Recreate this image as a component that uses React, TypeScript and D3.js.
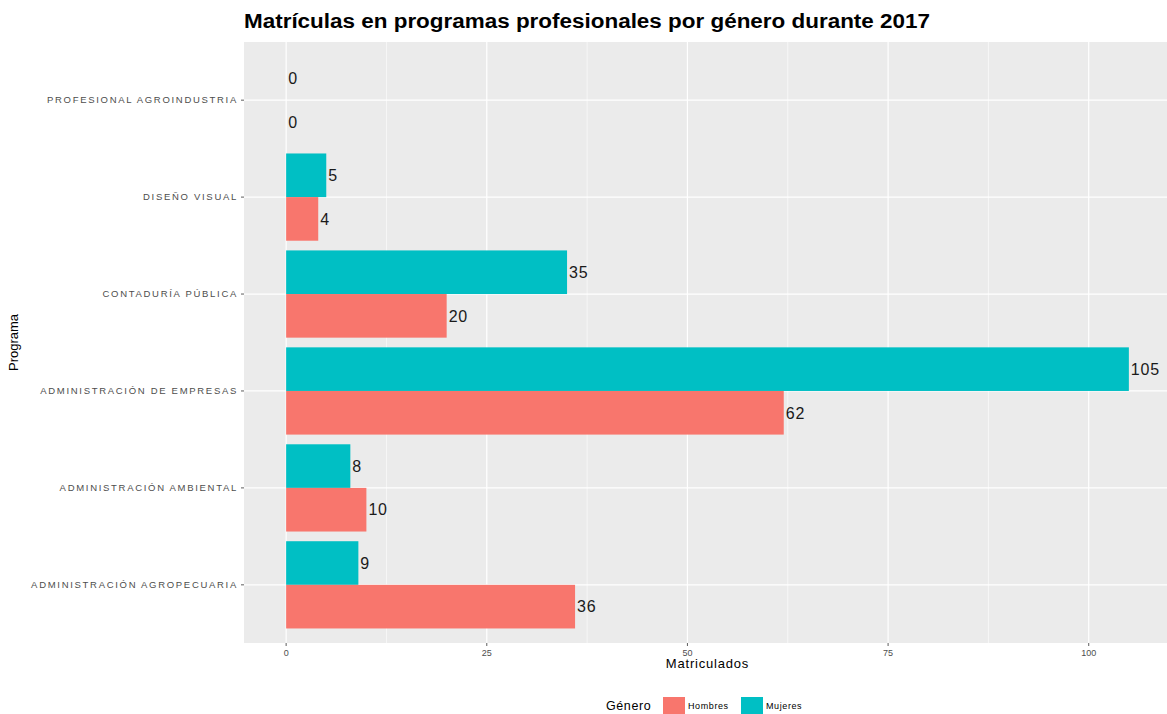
import React from "react";
import * as d3 from "d3";

const programs = [
  "PROFESIONAL AGROINDUSTRIA",
  "DISEÑO VISUAL",
  "CONTADURÍA PÚBLICA",
  "ADMINISTRACIÓN DE EMPRESAS",
  "ADMINISTRACIÓN AMBIENTAL",
  "ADMINISTRACIÓN AGROPECUARIA",
];
const hombres = [0, 4, 20, 62, 10, 36];
const mujeres = [0, 5, 35, 105, 8, 9];
const xTicks = [0, 25, 50, 75, 100];
const genders = ["Hombres", "Mujeres"];
const colors = ["#F8766D", "#00BFC4"];

const W = 1167;
const H = 714;
const panel = { left: 244, right: 1171, top: 42, bottom: 643 };

export default function App() {
  const x = d3.scaleLinear().domain([-5.25, 110.25]).range([panel.left, panel.right]);
  const y = d3.scalePoint<string>().domain(programs).range([panel.top, panel.bottom]).padding(0.6);
  const step = y.step();
  const bh = step * 0.45;
  const minor = [12.5, 37.5, 62.5, 87.5];
  const axisFont = "Liberation Sans, Arial, sans-serif";

  return (
    <svg width={W} height={H} style={{ position: "absolute", left: 0, top: 0, background: "#fff" }} fontFamily={axisFont}>
      <defs>
        <clipPath id="pc">
          <rect x={panel.left} y={panel.top} width={panel.right - panel.left} height={panel.bottom - panel.top} />
        </clipPath>
      </defs>
      <text x={244} y={28} fontSize={20} fontWeight="bold" fill="#000" textLength={686} lengthAdjust="spacingAndGlyphs">
        Matrículas en programas profesionales por género durante 2017
      </text>
      <g clipPath="url(#pc)">
        <rect x={panel.left} y={panel.top} width={panel.right - panel.left} height={panel.bottom - panel.top} fill="#EBEBEB" />
        {minor.map((t) => (
          <line key={"m" + t} x1={x(t)} x2={x(t)} y1={panel.top} y2={panel.bottom} stroke="#fff" strokeWidth={0.6} />
        ))}
        {xTicks.map((t) => (
          <line key={"g" + t} x1={x(t)} x2={x(t)} y1={panel.top} y2={panel.bottom} stroke="#fff" strokeWidth={1.2} />
        ))}
        {programs.map((p) => (
          <line key={"h" + p} x1={panel.left} x2={panel.right} y1={y(p)} y2={y(p)} stroke="#fff" strokeWidth={1.2} />
        ))}
        {programs.map((p, i) => (
          <g key={"b" + p}>
            <rect x={x(0)} y={y(p)! - bh} width={x(mujeres[i]) - x(0)} height={bh} fill={colors[1]} />
            <rect x={x(0)} y={y(p)!} width={x(hombres[i]) - x(0)} height={bh} fill={colors[0]} />
            <text x={x(mujeres[i]) + 2} y={y(p)! - bh / 2} dy="0.36em" fontSize={16} letterSpacing={0.8} fill="#1a1a1a">
              {mujeres[i]}
            </text>
            <text x={x(hombres[i]) + 2} y={y(p)! + bh / 2} dy="0.36em" fontSize={16} letterSpacing={0.8} fill="#1a1a1a">
              {hombres[i]}
            </text>
          </g>
        ))}
      </g>
      {xTicks.map((t) => (
        <g key={"xt" + t}>
          <line x1={x(t)} x2={x(t)} y1={panel.bottom} y2={panel.bottom + 3} stroke="#333" strokeWidth={0.8} />
          <text x={x(t)} y={panel.bottom + 13} textAnchor="middle" fontSize={9} fill="#4d4d4d">
            {t}
          </text>
        </g>
      ))}
      {programs.map((p) => (
        <g key={"yt" + p}>
          <line x1={panel.left - 3} x2={panel.left} y1={y(p)} y2={y(p)} stroke="#333" strokeWidth={0.8} />
          <text x={panel.left - 6} y={y(p)} dy="0.35em" textAnchor="end" fontSize={9.5} fill="#4d4d4d" letterSpacing={1.7}>
            {p}
          </text>
        </g>
      ))}
      <text x={(panel.left + panel.right) / 2} y={668} textAnchor="middle" fontSize={13} letterSpacing={0.8} fill="#000">
        Matriculados
      </text>
      <text transform={`translate(18, ${(panel.top + panel.bottom) / 2}) rotate(-90)`} textAnchor="middle" fontSize={13} fill="#000">
        Programa
      </text>
      <g>
        <text x={606} y={710} fontSize={12.5} letterSpacing={0.6} fill="#000">Género</text>
        {genders.map((g, i) => {
          const kx = i === 0 ? 663 : 741;
          return (
            <g key={g}>
              <rect x={kx} y={697} width={22} height={17} fill={colors[i]} />
              <text x={kx + 25} y={709} fontSize={9} letterSpacing={0.6} fill="#000">{g}</text>
            </g>
          );
        })}
      </g>
    </svg>
  );
}
